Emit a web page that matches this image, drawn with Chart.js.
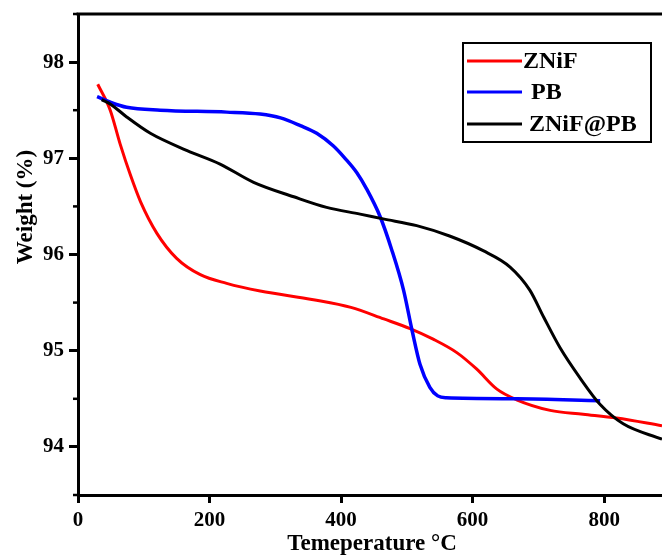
<!DOCTYPE html>
<html>
<head>
<meta charset="utf-8">
<script src="https://cdn.jsdelivr.net/npm/chart.js@4.4.1/dist/chart.umd.min.js"></script>
<style>
  html, body { margin: 0; padding: 0; background: #fff; }
  #wrap { width: 662px; height: 555px; }
</style>
</head>
<body>
<div id="wrap"><canvas id="tga"></canvas></div>
<script>
// TGA curves
const seriesNames = ['ZNiF', 'PB', 'ZNiF@PB'];
const seriesColors = ['#ff0000', '#0000ff', '#000000'];

const znifTemp = [30, 49, 64, 80, 95, 120, 150, 186, 226, 277, 358, 415, 465, 505, 540, 576, 606, 637, 667, 718, 768, 819, 888];
const znifWeight = [97.77, 97.50, 97.15, 96.82, 96.55, 96.22, 95.96, 95.79, 95.70, 95.62, 95.53, 95.45, 95.33, 95.23, 95.12, 94.98, 94.81, 94.60, 94.49, 94.38, 94.34, 94.30, 94.22];

const pbTemp = [29, 50, 74, 125, 226, 277, 308, 338, 363, 388, 406, 424, 439, 459, 477, 495, 508, 520, 535, 547, 560, 667, 794];
const pbWeight = [97.64, 97.58, 97.53, 97.50, 97.48, 97.46, 97.42, 97.34, 97.26, 97.13, 97.00, 96.85, 96.68, 96.40, 96.05, 95.63, 95.21, 94.86, 94.62, 94.53, 94.51, 94.50, 94.48];

const compTemp = [36, 50, 74, 110, 166, 216, 267, 328, 378, 429, 464, 515, 566, 616, 657, 687, 708, 733, 763, 794, 829, 888];
const compWeight = [97.61, 97.56, 97.43, 97.26, 97.08, 96.94, 96.75, 96.60, 96.49, 96.42, 96.37, 96.30, 96.19, 96.04, 95.87, 95.63, 95.35, 95.03, 94.72, 94.44, 94.24, 94.08];

const xTicks = [0, 200, 400, 600, 800];
const yTicks = [94, 95, 96, 97, 98];
const yMinorTicks = [93.5, 94.5, 95.5, 96.5, 97.5, 98.5];

const serif = "'Liberation Serif', 'Times New Roman', serif";

function pairs(xs, ys) {
    return xs.map((x, i) => ({ x: x, y: ys[i] }));
}

// frame top line, minor y ticks, axis titles and the boxed legend
const extras = {
    id: 'extras',
    afterDraw(chart) {
        const ctx = chart.ctx;
        const area = chart.chartArea;
        const ys = chart.scales.y;
        ctx.save();
        ctx.strokeStyle = '#000';
        ctx.lineWidth = 3;
        ctx.beginPath();
        ctx.moveTo(area.left - 1.5, area.top);
        ctx.lineTo(area.right, area.top);
        ctx.stroke();

        ctx.lineWidth = 2.5;
        yMinorTicks.forEach(v => {
            const p = ys.getPixelForValue(v);
            ctx.beginPath();
            ctx.moveTo(area.left - 5, p);
            ctx.lineTo(area.left, p);
            ctx.stroke();
        });

        ctx.fillStyle = '#000';
        ctx.font = 'bold 23px ' + serif;
        ctx.textAlign = 'center';
        ctx.textBaseline = 'alphabetic';
        ctx.fillText('Temeperature \u00B0C', 372, 550);

        ctx.save();
        ctx.translate(32, 207);
        ctx.rotate(-Math.PI / 2);
        ctx.fillText('Weight (%)', 0, 0);
        ctx.restore();

        // legend box
        ctx.lineWidth = 2;
        ctx.strokeRect(463, 43, 188, 99);
        const rows = [61, 92, 124];
        const textX = [523, 531, 529];
        ctx.font = 'bold 24px ' + serif;
        ctx.textBaseline = 'middle';
        chart.data.datasets.forEach((ds, i) => {
            ctx.strokeStyle = ds.borderColor;
            ctx.lineWidth = 3;
            ctx.beginPath();
            ctx.moveTo(467, rows[i]);
            ctx.lineTo(522, rows[i]);
            ctx.stroke();
            ctx.fillStyle = '#000';
            ctx.textAlign = 'left';
            ctx.fillText(ds.label, textX[i], rows[i] + 1);
        });
        ctx.restore();
    }
};

const chart = new Chart(document.querySelector('#tga').getContext('2d'), {
    type: 'line',
    data: {
        datasets: [
            { label: seriesNames[0], data: pairs(znifTemp, znifWeight), borderColor: seriesColors[0], borderWidth: 3, order: 2 },
            { label: seriesNames[1], data: pairs(pbTemp, pbWeight), borderColor: seriesColors[1], borderWidth: 3.5, order: 1 },
            { label: seriesNames[2], data: pairs(compTemp, compWeight), borderColor: seriesColors[2], borderWidth: 3, order: 0 }
        ]
    },
    options: {
        responsive: true,
        maintainAspectRatio: false,
        animation: false,
        layout: { padding: { top: 14, right: 0, left: 0, bottom: 0 } },
        elements: {
            point: { radius: 0 },
            line: { cubicInterpolationMode: 'monotone', fill: false }
        },
        plugins: {
            legend: { display: false },
            tooltip: { enabled: false }
        },
        scales: {
            x: {
                type: 'linear',
                min: 0,
                max: 888,
                afterBuildTicks: s => { s.ticks = xTicks.map(v => ({ value: v })); },
                afterFit: s => { s.height = 60; s.paddingLeft = 0; s.paddingRight = 0; },
                border: { color: '#000', width: 3 },
                grid: { drawOnChartArea: false, tickLength: 8, tickWidth: 3, tickColor: '#000' },
                ticks: { color: '#000', padding: 5, maxRotation: 0, font: { family: serif, size: 21, weight: 'bold' } }
            },
            y: {
                type: 'linear',
                min: 93.5,
                max: 98.5,
                afterBuildTicks: s => { s.ticks = yTicks.map(v => ({ value: v })); },
                afterFit: s => { s.width = 78; s.paddingTop = 0; s.paddingBottom = 0; },
                border: { color: '#000', width: 3 },
                grid: { drawOnChartArea: false, tickLength: 9, tickWidth: 3, tickColor: '#000' },
                ticks: { color: '#000', padding: 5, font: { family: serif, size: 21, weight: 'bold' } }
            }
        }
    },
    plugins: [extras]
});
</script>
</body>
</html>
